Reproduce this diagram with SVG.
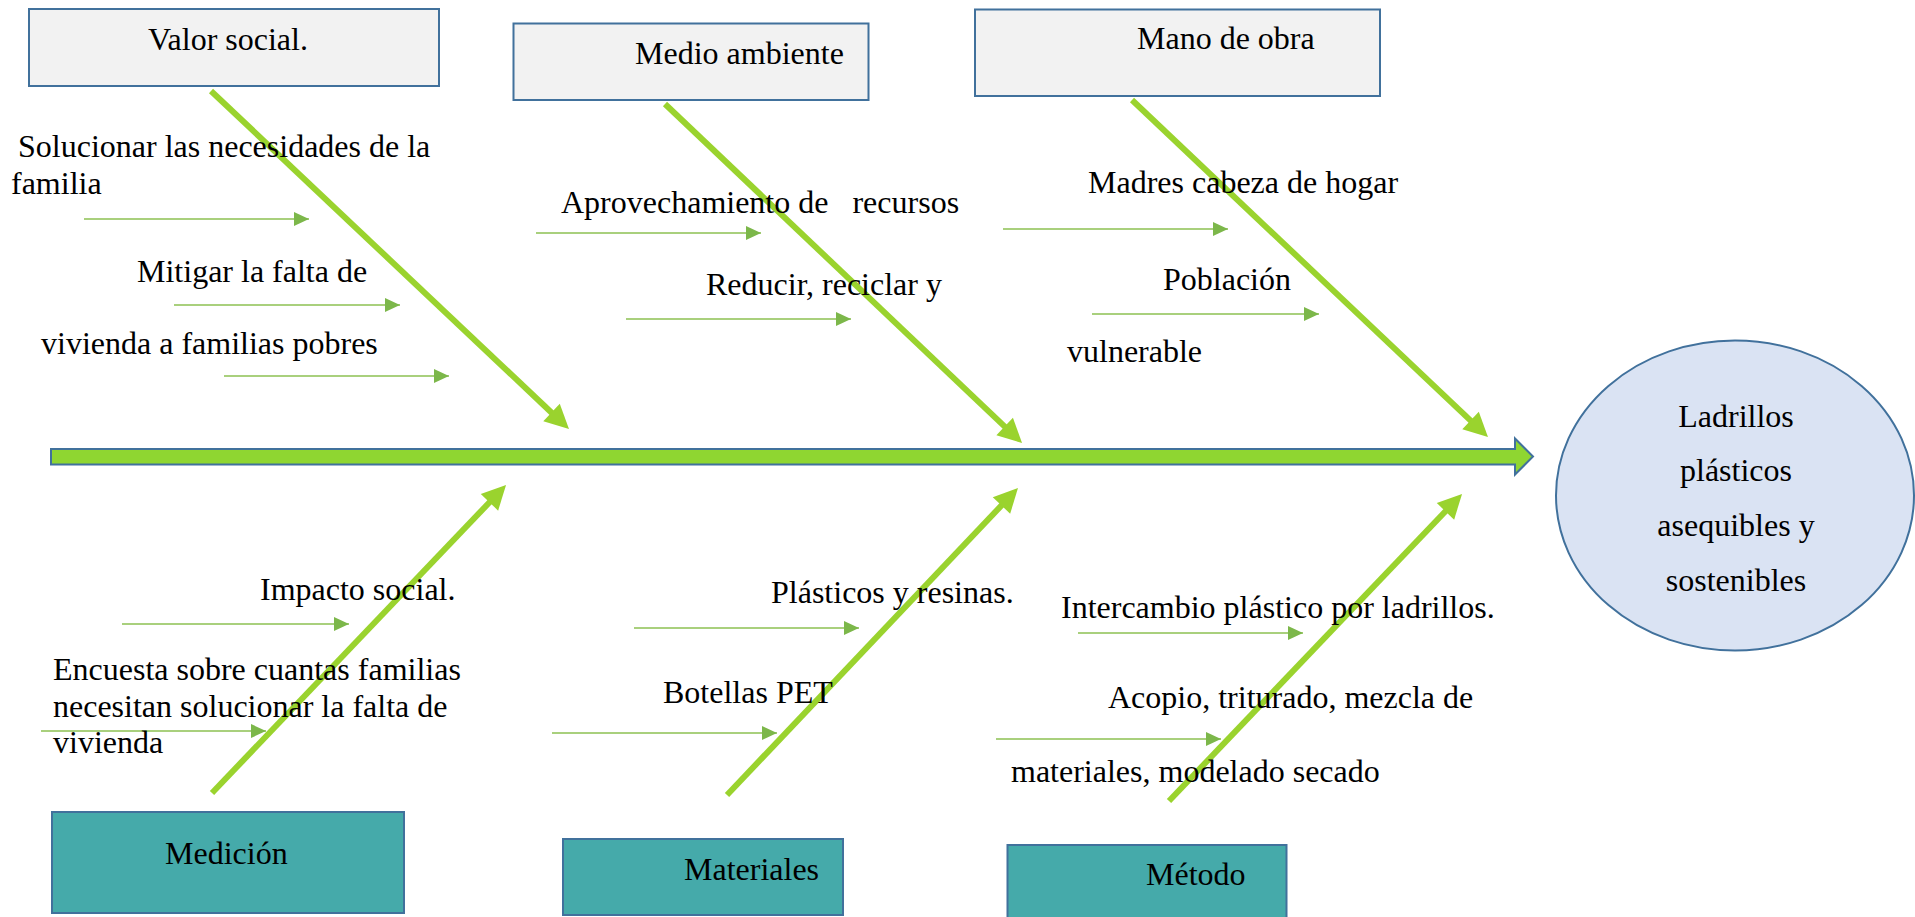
<svg xmlns="http://www.w3.org/2000/svg" width="1915" height="917" viewBox="0 0 1915 917" font-family="'Liberation Serif', 'DejaVu Serif', serif" font-size="32">
<style>
text{font-family:'Liberation Serif','DejaVu Serif',serif;font-size:32px;fill:#000}
.top{fill:#F2F2F2;stroke:#41719C;stroke-width:2}
.bot{fill:#45AAAA;stroke:#41719C;stroke-width:2}
.bone{stroke:#9AD32E;stroke-width:6;fill:none;marker-end:url(#bigHead)}
.sub{stroke:#8CC152;stroke-width:1.5;fill:none;marker-end:url(#smallHead)}
.mid{text-anchor:middle}
</style>
<defs>
<marker id="bigHead" markerUnits="userSpaceOnUse" markerWidth="24" markerHeight="24" refX="6" refY="12" orient="auto" overflow="visible">
<path d="M0,0 L24,12 L0,24 z" fill="#9AD32E"/>
</marker>
<marker id="smallHead" markerUnits="userSpaceOnUse" markerWidth="15" markerHeight="14" refX="15" refY="7" orient="auto" overflow="visible">
<path d="M0,0 L15,7 L0,14 z" fill="#7CB74A"/>
</marker>
</defs>
<rect width="1915" height="917" fill="#FFFFFF"/>

<g id="connectors">
<polygon id="spine" points="51,449 1515,449 1515,438.5 1533,456.5 1515,474.5 1515,464.5 51,464.5" fill="#8FD631" stroke="#41719C" stroke-width="2"/>
<line class="bone" x1="211" y1="91" x2="555.9" y2="416.7"/>
<line class="bone" x1="665" y1="104" x2="1009" y2="430.6"/>
<line class="bone" x1="1132" y1="100" x2="1474.9" y2="424.6"/>
<line class="bone" x1="212" y1="793" x2="493.6" y2="498"/>
<line class="bone" x1="727" y1="795" x2="1005.6" y2="501.1"/>
<line class="bone" x1="1169" y1="801" x2="1449.6" y2="507"/>
<line class="sub" x1="84" y1="219" x2="309" y2="219"/>
<line class="sub" x1="174" y1="305" x2="400" y2="305"/>
<line class="sub" x1="224" y1="376" x2="449" y2="376"/>
<line class="sub" x1="536" y1="233" x2="761" y2="233"/>
<line class="sub" x1="626" y1="319" x2="851" y2="319"/>
<line class="sub" x1="1003" y1="229" x2="1228" y2="229"/>
<line class="sub" x1="1092" y1="314" x2="1319" y2="314"/>
<line class="sub" x1="122" y1="624" x2="349" y2="624"/>
<line class="sub" x1="41" y1="731" x2="266" y2="731"/>
<line class="sub" x1="634" y1="628" x2="859" y2="628"/>
<line class="sub" x1="552" y1="733" x2="777" y2="733"/>
<line class="sub" x1="1078" y1="633" x2="1303" y2="633"/>
<line class="sub" x1="996" y1="739" x2="1221" y2="739"/>
</g>

<g id="valor-social">
<rect class="top" x="29" y="9" width="410" height="77"/>
<text x="148" y="50">Valor social.</text>
</g>
<g id="medio-ambiente">
<rect class="top" x="513.5" y="23.5" width="355" height="76.5"/>
<text x="635" y="64">Medio ambiente</text>
</g>
<g id="mano-de-obra">
<rect class="top" x="975" y="9.5" width="405" height="86.5"/>
<text x="1137" y="49">Mano de obra</text>
</g>
<g id="medicion">
<rect class="bot" x="52" y="812" width="352" height="101"/>
<text x="165" y="864">Medición</text>
</g>
<g id="materiales">
<rect class="bot" x="563" y="839" width="280" height="76"/>
<text x="684" y="880">Materiales</text>
</g>
<g id="metodo">
<rect class="bot" x="1007.5" y="845" width="279" height="80"/>
<text x="1146" y="885">Método</text>
</g>
<g id="efecto">
<ellipse cx="1735" cy="495.5" rx="179" ry="155" fill="#DAE3F3" stroke="#41719C" stroke-width="2"/>
<text class="mid" x="1736" y="427">Ladrillos</text>
<text class="mid" x="1736" y="481">plásticos</text>
<text class="mid" x="1736" y="536">asequibles y</text>
<text class="mid" x="1736" y="591">sostenibles</text>
</g>

<g id="causas">
<text x="18" y="157">Solucionar las necesidades de la</text>
<text x="11" y="194">familia</text>
<text x="137" y="282">Mitigar la falta de</text>
<text x="41" y="354">vivienda a familias pobres</text>
<text x="561" y="213" xml:space="preserve">Aprovechamiento de   recursos</text>
<text x="706" y="295">Reducir, reciclar y</text>
<text x="1088" y="193">Madres cabeza de hogar</text>
<text x="1163" y="290">Población</text>
<text x="1067" y="362">vulnerable</text>
<text x="260" y="600">Impacto social.</text>
<text x="53" y="680">Encuesta sobre cuantas familias</text>
<text x="53" y="717">necesitan solucionar la falta de</text>
<text x="53" y="753">vivienda</text>
<text x="771" y="603">Plásticos y resinas.</text>
<text x="663" y="703">Botellas PET</text>
<text x="1061" y="618">Intercambio plástico por ladrillos.</text>
<text x="1108" y="708">Acopio, triturado, mezcla de</text>
<text x="1011" y="782">materiales, modelado secado</text>
</g>
</svg>
